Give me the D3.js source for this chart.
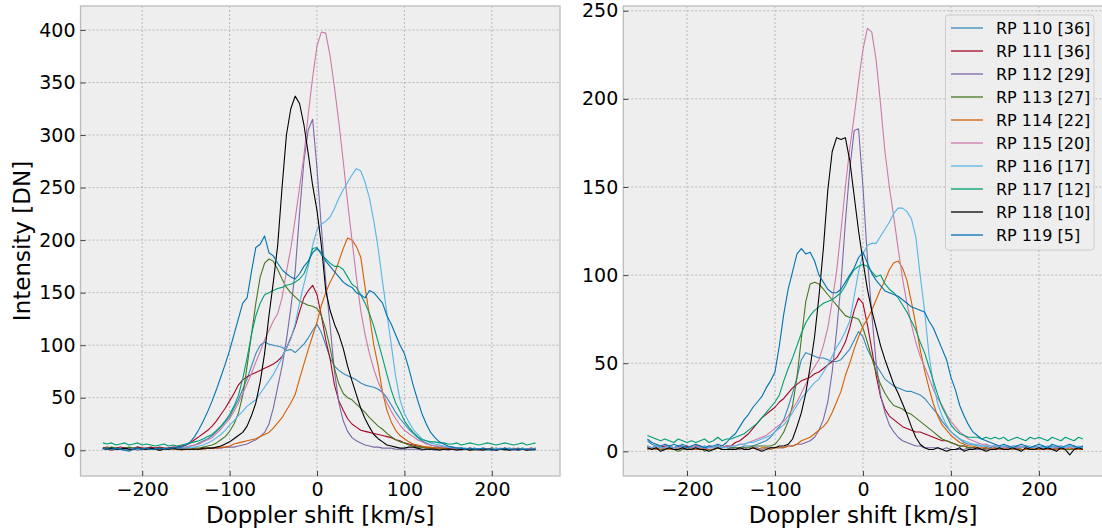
<!DOCTYPE html>
<html>
<head>
<meta charset="utf-8">
<script src="https://cdn.jsdelivr.net/npm/d3@7"></script>
<style>
  body{margin:0;background:#fff;}
  svg{display:block;font-family:"DejaVu Sans",sans-serif;}
</style>
</head>
<body>
<div id="chart"></div>
<script>
// Doppler shift grid [km/s], shared by both panels
var velocity = [
  -245,-240,-235,-230,-225,-220,-215,-210,-205,-200,
  -195,-190,-185,-180,-175,-170,-165,-160,-155,-150,
  -145,-140,-135,-130,-125,-120,-115,-110,-105,-100,
  -95,-90,-85,-80,-75,-70,-65,-60,-55,-50,
  -45,-40,-35,-30,-25,-20,-15,-10,-5,0,
  5,10,15,20,25,30,35,40,45,50,
  55,60,65,70,75,80,85,90,95,100,
  105,110,115,120,125,130,135,140,145,150,
  155,160,165,170,175,180,185,190,195,200,
  205,210,215,220,225,230,235,240,245,250];

var names = ["RP 110 [36]","RP 111 [36]","RP 112 [29]","RP 113 [27]","RP 114 [22]",
             "RP 115 [20]","RP 116 [17]","RP 117 [12]","RP 118 [10]","RP 119 [5]"];
var colors = ["#348ABD","#A60628","#7A68A6","#467821","#D55E00",
              "#CC79A7","#56B4E9","#009E73","#000000","#0072B2"];

var xTicks = [-200,-100,0,100,200];
var yTicksLeft = [0,50,100,150,200,250,300,350,400];
var yTicksRight = [0,50,100,150,200,250];

// left panel intensities [DN]
var left110 = [2,1,1,2,1,0,1,2,3,2, 1,1,2,1,1,2,1,2,2,3, 4,5,7,9,11,14,18,22,27,32,
  40,48,58,68,80,92,100,103,101,100, 99,98,95,96,93,97,101,107,114,120,
  112,100,88,80,76,73,71,69,67,64, 62,61,60,58,55,50,43,36,30,25,
  20,16,12,9,7,5,4,3,3,2, 2,1,2,1,1,2,1,1,0,1, 2,1,1,2,1,1,2,1,1,2];
var left111 = [2,3,2,2,3,2,1,2,3,2, 2,3,2,3,2,2,3,3,4,5, 7,10,13,16,19,23,28,34,40,47,
  54,62,67,70,72,74,76,78,80,82, 85,89,97,107,118,132,145,152,157,148,
  128,105,87,62,47,38,30,25,22,19, 18,17,16,15,14,13,12,10,9,7,
  6,5,4,3,3,2,2,2,1,2, 1,2,1,1,2,1,0,1,1,2, 1,1,2,1,1,0,1,1,2,1];
var left112 = [1,1,0,1,1,2,1,1,0,1, 1,1,1,0,1,1,1,1,1,1, 1,1,1,1,2,2,2,2,3,3,
  3,4,5,6,8,10,13,17,25,40, 60,80,105,135,170,225,275,305,315,268,
  212,160,118,75,45,28,18,12,9,7, 5,4,3,3,2,2,2,1,1,1,
  1,1,1,0,1,1,0,1,1,0, 1,1,0,1,1,1,0,1,1,1, 0,1,1,1,0,1,1,1,0,1];
var left113 = [2,2,3,2,1,2,3,2,2,1, 2,1,2,1,2,1,1,2,1,1, 1,2,2,3,4,5,7,10,13,18,
  25,35,52,80,110,140,165,178,182,180, 172,163,155,150,146,142,140,138,137,135,
  128,115,97,78,63,54,50,48,44,40, 36,31,27,23,20,16,13,10,8,7,
  5,4,3,3,2,2,2,1,2,1, 1,1,2,1,1,0,1,1,1,2, 1,1,0,1,1,2,1,1,0,1];
var left114 = [1,1,0,1,1,1,0,1,1,2, 1,1,1,0,1,1,1,1,0,1, 1,1,1,1,2,2,2,3,3,4,
  6,7,8,9,10,11,13,15,17,21, 26,31,38,45,53,68,82,96,109,122,
  138,150,160,168,180,192,202,200,194,184, 155,128,100,80,55,38,27,19,14,11,
  8,6,5,4,3,3,2,2,2,1, 1,1,1,1,0,1,1,1,1,0, 1,1,1,0,1,1,1,0,1,1];
var left115 = [1,1,1,1,2,1,1,1,2,1, 1,2,1,1,1,1,2,2,2,3, 4,5,6,8,10,12,16,20,25,30,
  37,45,54,63,73,84,94,105,114,123, 130,145,170,192,220,250,280,320,355,385,
  398,397,375,345,312,275,236,200,165,133, 110,92,77,65,55,45,37,30,24,19,
  16,13,10,8,6,5,4,4,3,3, 2,2,2,1,2,1,1,2,1,1, 1,2,1,1,2,1,1,1,2,1];
var left116 = [1,2,1,1,2,1,1,2,1,1, 2,1,1,2,1,1,2,1,2,2, 3,3,4,5,7,9,12,15,19,24,
  28,33,37,42,45,48,54,60,66,72, 80,88,97,106,120,140,158,175,195,210,
  215,218,222,230,240,248,255,262,268,266, 255,240,218,192,160,130,100,70,48,35,
  27,20,15,11,9,7,6,5,4,3, 3,2,2,2,1,2,1,2,1,1, 2,1,1,2,1,1,2,1,1,2];
var left117 = [7,6,7,5,6,7,5,6,7,5, 6,5,4,5,6,4,5,4,5,6, 7,8,9,11,13,15,19,23,28,34,
  42,52,68,88,110,128,140,148,150,152, 154,155,157,158,160,163,168,178,192,193,
  186,182,178,175,175,172,165,158,155,148, 140,130,118,103,88,72,57,45,37,28,
  22,17,13,10,9,8,8,7,7,6, 6,7,5,6,7,6,5,6,7,6, 5,6,7,6,5,6,7,5,6,7];
var left118 = [2,1,2,1,1,2,1,1,2,1, 1,2,1,0,1,1,2,1,1,1, 1,1,1,2,2,2,3,4,6,8,
  11,14,17,23,33,45,65,92,128,160, 195,250,300,325,337,330,310,282,252,228,
  195,152,133,120,110,97,80,66,53,40, 30,22,15,11,8,5,4,3,2,2,
  3,3,2,1,1,1,1,0,1,1, 1,0,1,1,0,1,1,0,1,1, 0,1,1,0,1,1,1,0,1,1];
var left119 = [2,1,1,2,1,0,-1,1,2,1, 2,1,1,2,1,2,2,3,3,5, 8,13,20,28,37,47,58,70,82,95,
  110,125,140,145,170,193,196,204,188,185, 178,172,168,165,163,168,175,180,188,192,
  188,180,175,170,165,160,157,155,150,148, 145,152,150,145,140,128,120,110,100,92,
  78,62,48,35,25,17,12,8,6,4, 3,2,2,1,2,1,1,2,1,0, 1,1,2,1,1,0,1,1,1,0];

// right panel intensities [DN]
var right110 = [6,4,3,3,2,3,2,3,4,3, 2,3,2,3,2,2,3,2,3,2, 2,2,3,3,3,4,5,6,8,11,
  14,18,25,33,42,52,56,55,54,53, 53,52,51,51,52,55,58,63,68,65,
  58,53,49,45,41,39,37,36,35,34, 34,33,32,30,27,24,21,17,14,11,
  9,7,5,4,4,3,3,3,2,3, 2,3,2,3,3,2,3,2,3,2, 3,2,3,2,3,2,3,3,2,3];
var right111 = [3,2,3,2,3,3,2,3,2,3, 2,3,3,2,3,2,3,2,3,3, 5,6,8,10,13,16,19,21,23,25,
  28,30,33,36,38,40,41,42,44,45, 47,49,51,53,57,62,70,80,87,84,
  72,58,43,31,24,20,18,16,14,13, 12,11,11,10,9,8,7,6,6,5,
  4,3,3,2,2,2,1,2,1,2, 1,2,1,1,2,1,1,2,1,1, 2,1,1,2,1,1,1,2,1,1];
var right112 = [1,2,1,1,2,1,1,2,1,1, 2,1,1,2,1,1,2,1,1,2, 1,1,2,1,2,2,1,2,2,2,
  2,2,3,3,4,4,5,6,8,12, 18,28,45,68,95,130,160,182,183,150,
  110,78,50,32,22,15,11,8,6,5, 4,3,3,2,2,2,2,1,2,1,
  1,1,1,2,1,1,1,1,2,1, 1,1,2,1,1,1,1,2,1,1, 1,2,1,1,1,2,1,1,1,2];
var right113 = [2,1,2,1,1,2,1,0,1,2, 1,1,2,0,1,1,2,1,1,2, 2,2,2,2,3,3,3,3,3,4,
  7,11,17,26,42,64,85,95,96,95, 92,89,86,83,80,77,76,76,75,70,
  62,53,45,38,33,29,26,25,24,22, 21,19,17,15,13,11,9,7,6,5,
  4,3,3,2,2,2,1,2,1,1, 2,1,1,1,2,1,1,2,1,1, 1,2,1,1,2,1,1,1,2,1];
var right114 = [1,2,1,1,2,1,1,1,2,1, 1,1,2,1,1,1,2,1,1,1, 1,2,1,1,2,1,2,2,1,2,
  2,2,3,3,4,6,7,8,10,12, 14,17,22,28,34,43,50,58,65,71,
  75,80,86,92,97,103,107,108,104,97, 85,72,58,46,36,27,20,15,12,9,
  7,5,4,3,3,2,2,2,1,2, 1,2,1,1,2,1,1,1,2,1, 1,1,2,1,1,1,2,1,1,1];
var right115 = [3,2,3,2,2,3,2,2,3,2, 2,3,2,2,3,2,3,2,3,3, 3,4,4,5,6,7,8,9,11,13,
  15,17,20,24,28,33,38,44,48,52, 60,70,85,102,125,150,172,190,210,228,
  240,238,222,197,170,150,133,115,98,84, 72,62,54,48,42,35,30,26,21,17,
  14,11,9,7,6,5,4,4,3,3, 3,2,3,2,2,3,2,2,3,2, 2,3,2,2,3,2,2,3,2,2];
var right116 = [3,2,3,2,2,3,2,3,2,2, 3,2,2,3,2,2,3,2,2,3, 3,4,4,5,5,6,7,8,9,11,
  13,15,18,22,26,30,33,36,39,41, 45,49,54,59,63,68,74,88,102,112,
  117,118,118,122,126,130,135,138,138,136, 132,122,100,80,55,38,27,20,15,11,
  9,7,6,5,4,4,3,3,3,3, 2,3,3,2,3,2,3,3,2,3, 2,3,2,3,3,2,3,2,3,2];
var right117 = [9,8,7,6,7,6,5,7,6,5, 6,5,6,7,5,6,8,6,7,7, 8,9,10,12,14,16,19,22,25,28,
  32,40,47,53,60,67,73,77,80,82, 84,85,86,88,90,94,99,103,105,106,
  105,102,99,100,95,92,90,87,83,79, 74,69,62,56,48,40,32,25,20,15,
  12,10,9,8,8,8,7,8,7,8, 7,8,6,7,8,7,6,8,7,8, 7,6,8,7,6,8,7,6,8,7];
var right118 = [2,1,2,0,1,2,1,1,2,1, 1,2,1,1,0,1,2,1,1,1, 1,2,1,1,2,1,0,1,2,2,
  3,3,4,7,14,22,33,48,65,88, 115,148,170,178,177,178,165,145,125,108,
  92,80,70,60,52,45,38,33,27,21, 14,8,4,2,1,1,2,1,0,1,
  1,2,0,1,1,2,1,0,1,1, 2,1,1,2,1,0,2,1,1,2, 1,2,1,0,2,1,-2,1,2,1];
var right119 = [7,5,4,3,4,3,4,3,3,2, 3,4,3,2,3,3,4,3,5,8, 10,14,18,21,25,28,31,36,40,45,
  60,78,92,102,112,115,112,113,108,100, 96,92,90,90,92,96,100,104,110,113,
  107,101,97,94,91,90,89,88,86,84, 82,81,80,79,74,70,64,58,52,42,
  35,26,20,15,11,9,7,6,5,4, 3,4,3,2,3,4,3,2,3,4, 3,2,4,3,2,3,4,3,2,3];

var leftSeries = [left110,left111,left112,left113,left114,left115,left116,left117,left118,left119];
var rightSeries = [right110,right111,right112,right113,right114,right115,right116,right117,right118,right119];

var width = 1102, height = 532;
var svg = d3.select("#chart").append("svg")
    .attr("width",width)
    .attr("height",height);

var drawpanel = function(cfg){
  var xScale = d3.scaleLinear().domain(cfg.xDomain).range([cfg.x0,cfg.x1]);
  var yScale = d3.scaleLinear().domain(cfg.yDomain).range([cfg.y1,cfg.y0]);
  var g = svg.append("g");

  g.append("rect")
      .attr("x",cfg.x0).attr("y",cfg.y0)
      .attr("width",cfg.x1-cfg.x0).attr("height",cfg.y1-cfg.y0)
      .attr("fill","#eeeeee");

  // dotted grid
  g.append("g").selectAll("line").data(xTicks).enter().append("line")
      .attr("x1",d=>xScale(d)).attr("x2",d=>xScale(d))
      .attr("y1",cfg.y0).attr("y2",cfg.y1)
      .attr("stroke","#b2b2b2").attr("stroke-width",0.9)
      .attr("stroke-dasharray","2,2");
  g.append("g").selectAll("line").data(cfg.yTicks).enter().append("line")
      .attr("x1",cfg.x0).attr("x2",cfg.x1)
      .attr("y1",d=>yScale(d)).attr("y2",d=>yScale(d))
      .attr("stroke","#b2b2b2").attr("stroke-width",0.9)
      .attr("stroke-dasharray","2,2");

  var clipId = "clip"+cfg.id;
  svg.append("defs").append("clipPath").attr("id",clipId)
      .append("rect")
      .attr("x",cfg.x0).attr("y",cfg.y0)
      .attr("width",cfg.x1-cfg.x0).attr("height",cfg.y1-cfg.y0);

  var line = d3.line()
      .x((d,i)=>xScale(velocity[i]))
      .y(d=>yScale(d));

  g.append("g")
      .attr("clip-path","url(#"+clipId+")")
      .selectAll("path")
      .data(cfg.series)
      .enter()
      .append("path")
      .attr("d",d=>line(d))
      .attr("fill","none")
      .attr("stroke",(d,i)=>colors[i])
      .attr("stroke-width",1.1)
      .attr("stroke-linejoin","round");

  // frame
  g.append("rect")
      .attr("x",cfg.x0).attr("y",cfg.y0)
      .attr("width",cfg.x1-cfg.x0).attr("height",cfg.y1-cfg.y0)
      .attr("fill","none")
      .attr("stroke","#bcbcbc").attr("stroke-width",1.3);

  var xAxis = d3.axisBottom(xScale)
      .tickValues(xTicks)
      .tickSize(-5)
      .tickPadding(7)
      .tickFormat(d=>d<0 ? "\u2212"+Math.abs(d) : d);
  var yAxis = d3.axisLeft(yScale)
      .tickValues(cfg.yTicks)
      .tickSize(-5)
      .tickPadding(5);

  var ax = g.append("g")
      .attr("transform","translate(0,"+cfg.y1+")")
      .call(xAxis);
  var ay = g.append("g")
      .attr("transform","translate("+cfg.x0+",0)")
      .call(yAxis);
  [ax,ay].forEach(function(a){
    a.select(".domain").remove();
    a.selectAll(".tick line").attr("stroke","#444").attr("stroke-width",1);
    a.selectAll("text")
      .attr("font-family","DejaVu Sans")
      .attr("font-size","19px")
      .attr("fill","#000");
  });

  g.append("text")
      .attr("x",(cfg.x0+cfg.x1)/2)
      .attr("y",523)
      .attr("text-anchor","middle")
      .attr("font-size","23px")
      .attr("fill","#000")
      .text("Doppler shift [km/s]");

  if(cfg.ylabel){
    g.append("text")
        .attr("transform","translate(30,"+((cfg.y0+cfg.y1)/2)+") rotate(-90)")
        .attr("text-anchor","middle")
        .attr("font-size","23px")
        .attr("fill","#000")
        .text(cfg.ylabel);
  }
  return g;
};

drawpanel({id:"L",x0:80.5,x1:560,y0:6,y1:476,
  xDomain:[-270.6,278],yDomain:[-24.5,422.8],
  yTicks:yTicksLeft,series:leftSeries,ylabel:"Intensity [DN]"});

drawpanel({id:"R",x0:623.3,x1:1102.8,y0:6,y1:476,
  xDomain:[-272.4,272.6],yDomain:[-14,252.7],
  yTicks:yTicksRight,series:rightSeries});

// legend on the right panel
var legend = svg.append("g");
legend.append("rect")
    .attr("x",945.5).attr("y",15)
    .attr("width",148.5).attr("height",235)
    .attr("rx",3)
    .attr("fill","#eeeeee").attr("fill-opacity",0.8)
    .attr("stroke","#cccccc").attr("stroke-width",1);
var rows = legend.selectAll("g.row").data(names).enter()
    .append("g").attr("class","row")
    .attr("transform",(d,i)=>"translate(0,"+(28+23*i)+")");
rows.append("line")
    .attr("x1",951).attr("x2",983)
    .attr("stroke",(d,i)=>colors[i])
    .attr("stroke-width",1.3);
rows.append("text")
    .attr("x",996)
    .attr("dy","0.35em")
    .attr("font-size","16px")
    .attr("fill","#000")
    .text(d=>d);
</script>
</body>
</html>
